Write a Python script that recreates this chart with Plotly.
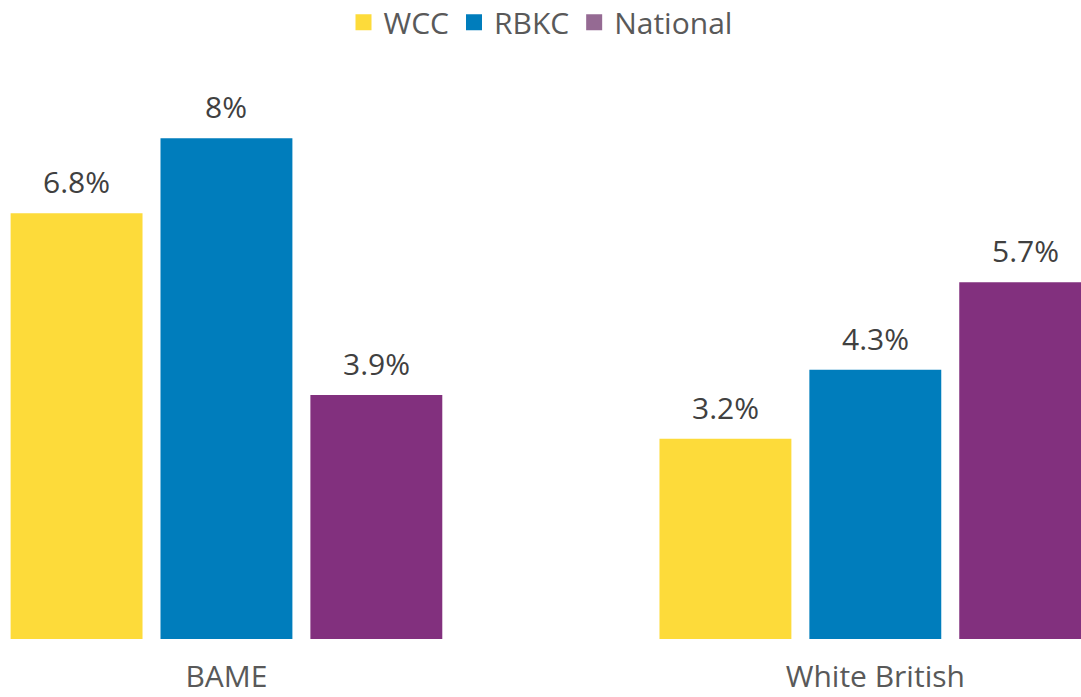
import plotly.graph_objects as go

categories = ["BAME", "White British"]
series_names = ["WCC", "RBKC", "National"]
wcc = [6.8, 3.2]
rbkc = [8.0, 4.3]
national = [3.9, 5.7]
labels = {
    "WCC": ["6.8%", "3.2%"],
    "RBKC": ["8%", "4.3%"],
    "National": ["3.9%", "5.7%"],
}

bar_colors = {"WCC": "#FDDB3A", "RBKC": "#007DBC", "National": "#82307E"}
legend_colors = {"WCC": "#FDDB3A", "RBKC": "#007DBC", "National": "#956A93"}
FONT = "Open Sans"

fig = go.Figure()
values = {"WCC": wcc, "RBKC": rbkc, "National": national}
for name in series_names:
    fig.add_bar(
        x=categories, y=values[name], name=name,
        marker=dict(color=bar_colors[name], line=dict(width=0)),
        showlegend=False,
    )
    # legend entry with a bigger square swatch
    fig.add_scatter(
        x=[None], y=[None], mode="markers", name=name,
        marker=dict(symbol="square", size=20, color=legend_colors[name]),
    )

# value labels above the bars
pitch = 150  # px between neighbouring bars in a group
for i, name in enumerate(series_names):
    for cat, v, t in zip(categories, values[name], labels[name]):
        fig.add_annotation(
            x=cat, y=v, text=t, showarrow=False,
            xshift=(i - 1) * pitch, yshift=9, yanchor="bottom",
            font=dict(family=FONT, size=30, color="#404040"),
        )

fig.update_layout(
    width=1081, height=697,
    margin=dict(l=0, r=0, t=60, b=58),
    paper_bgcolor="white", plot_bgcolor="white",
    barmode="group", bargap=0.307, bargroupgap=0.12,
    font=dict(family=FONT, color="#595959"),
    legend=dict(
        orientation="h", x=0.5, xanchor="center",
        y=0.968, yanchor="middle", yref="container",
        font=dict(family=FONT, size=30, color="#595959"),
        itemsizing="trace",
    ),
    xaxis=dict(
        range=[-0.349, 1.317], showline=False, showgrid=False,
        ticks="", ticklabelstandoff=17,
        tickfont=dict(family=FONT, size=30, color="#595959"),
    ),
    yaxis=dict(range=[0, 9.25], visible=False),
)

# drop the browser's default body margin so the figure fills the window
fig.write_html(
    "out.html",
    config={"displayModeBar": False},
    post_script="document.body.style.margin='0';",
)
